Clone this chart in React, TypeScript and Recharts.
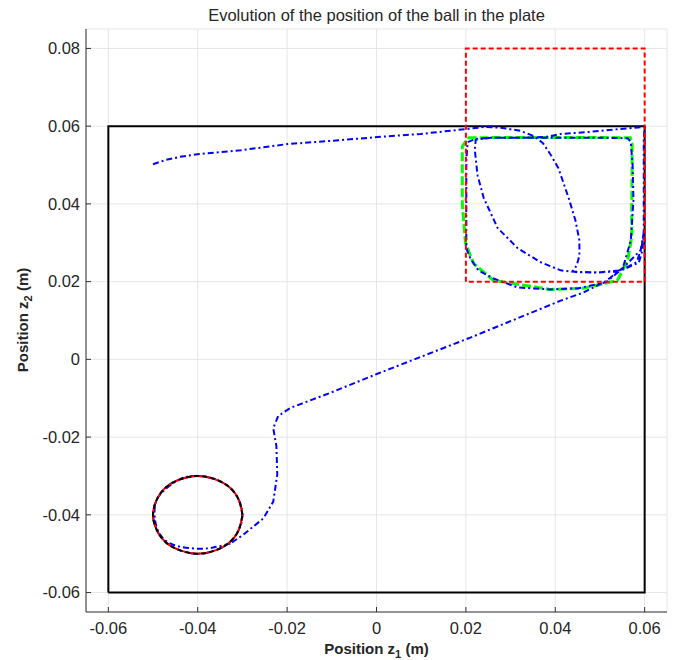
import { ScatterChart, Scatter, XAxis, YAxis, CartesianGrid } from 'recharts'

// axis ticks
const xTicks = [-0.06, -0.04, -0.02, 0, 0.02, 0.04, 0.06]
const yTicks = [-0.06, -0.04, -0.02, 0, 0.02, 0.04, 0.06, 0.08]

// plate boundary and target window
const plate = [[-0.06, -0.06], [-0.06, 0.06], [0.06, 0.06], [0.06, -0.06], [-0.06, -0.06]]
const targetBox = [[0.02, 0.02], [0.02, 0.08], [0.06, 0.08], [0.06, 0.02], [0.02, 0.02]]

// green square reference
const squareRef = [
  [0.0204, 0.057], [0.03, 0.0571], [0.04, 0.0571], [0.05, 0.0571], [0.0568, 0.0570], [0.0572, 0.0555],
  [0.0572, 0.05], [0.0571, 0.04], [0.0571, 0.0314], [0.0562, 0.0255], [0.0539, 0.0203], [0.0463, 0.0183],
  [0.0389, 0.018], [0.0262, 0.0203], [0.0217, 0.0247], [0.0199, 0.0299], [0.0192, 0.04], [0.0192, 0.0469],
  [0.0192, 0.0547], [0.0204, 0.057]
]

// circle reference
const circleRef = [
  [-0.03, -0.04], [-0.0308, -0.0362], [-0.0329, -0.0329], [-0.0362, -0.0308], [-0.04, -0.03],
  [-0.0438, -0.0308], [-0.0471, -0.0329], [-0.0492, -0.0362], [-0.05, -0.04], [-0.0492, -0.0438],
  [-0.0471, -0.0471], [-0.0438, -0.0492], [-0.04, -0.05], [-0.0362, -0.0492], [-0.0329, -0.0471],
  [-0.0308, -0.0438], [-0.03, -0.04]
]

// ball trajectory, piece by piece
const approach = [
  [-0.05, 0.0502], [-0.0472, 0.0513], [-0.044, 0.0521], [-0.0401, 0.0528], [-0.0304, 0.0538],
  [-0.0199, 0.0554], [-0.0103, 0.0562], [0.0002, 0.0572], [0.0099, 0.058], [0.0204, 0.0593], [0.0242, 0.0598]
]
const leafRight = [
  [0.0278, 0.0596], [0.0322, 0.0588], [0.0351, 0.0575], [0.0372, 0.0557], [0.039, 0.0526], [0.0407, 0.0492],
  [0.043, 0.0415], [0.0445, 0.0358], [0.0454, 0.0306], [0.0454, 0.0267], [0.0448, 0.0242], [0.0439, 0.0226]
]
const rightEdge = [
  [0.0486, 0.0223], [0.0535, 0.0226], [0.0562, 0.0236], [0.0587, 0.0249], [0.0595, 0.028],
  [0.0598, 0.0332], [0.0598, 0.0461], [0.0598, 0.0565], [0.06, 0.0598]
]
const topReturn = [
  [0.0546, 0.0593], [0.0475, 0.0585], [0.0412, 0.058], [0.0378, 0.0572], [0.0322, 0.057],
  [0.0255, 0.057], [0.0222, 0.0567]
]
const squareLap = [
  [0.0204, 0.0559], [0.0201, 0.0513], [0.0201, 0.041], [0.0201, 0.0286], [0.021, 0.026], [0.0228, 0.0229],
  [0.0262, 0.0208], [0.0316, 0.0185], [0.0389, 0.018], [0.0452, 0.0183], [0.0513, 0.0198], [0.0551, 0.0234],
  [0.0569, 0.0306], [0.0575, 0.041], [0.0573, 0.05], [0.0569, 0.0559], [0.0562, 0.0569], [0.0501, 0.057],
  [0.0412, 0.057], [0.0322, 0.057], [0.0255, 0.057], [0.0222, 0.0565]
]
const leafLeft = [
  [0.022, 0.0539], [0.0226, 0.0474], [0.024, 0.0415], [0.0271, 0.0338], [0.0316, 0.0286], [0.0367, 0.025],
  [0.0412, 0.0229], [0.0452, 0.0224], [0.0501, 0.0224], [0.0546, 0.0229], [0.0582, 0.025], [0.0593, 0.0286],
  [0.0598, 0.0327]
]
const exitPath = [
  [0.0591, 0.0281], [0.0553, 0.0237], [0.0513, 0.0201], [0.0463, 0.0172], [0.0412, 0.0151], [0.021, 0.0056],
  [0.0002, -0.0037], [-0.0103, -0.0086], [-0.0193, -0.0125], [-0.022, -0.0146], [-0.0231, -0.0177],
  [-0.0224, -0.0223], [-0.0222, -0.0296], [-0.0231, -0.0366], [-0.0253, -0.0409], [-0.0298, -0.0451],
  [-0.0327, -0.0474]
]
const circleInner = [
  [-0.0365, -0.0484], [-0.0401, -0.0487], [-0.0455, -0.0477], [-0.0484, -0.0451], [-0.0495, -0.0417],
  [-0.0495, -0.0373], [-0.0477, -0.0339], [-0.0439, -0.0308], [-0.0401, -0.03]
]
const circleLap = [
  [-0.0362, -0.0308], [-0.0329, -0.0329], [-0.0308, -0.0362], [-0.03, -0.04], [-0.0308, -0.0438],
  [-0.0329, -0.0471], [-0.0362, -0.0492], [-0.04, -0.05], [-0.0438, -0.0492], [-0.0471, -0.0471],
  [-0.0492, -0.0438], [-0.05, -0.04], [-0.0492, -0.0362], [-0.0471, -0.0329], [-0.0438, -0.0308],
  [-0.04, -0.03], [-0.0362, -0.0308]
]

const pts = (arr: number[][]) => arr.map(([x, y]) => ({ x, y }))
const trajectory = pts([
  ...approach, ...leafRight, ...rightEdge, ...topReturn, ...squareLap, ...leafLeft, ...exitPath
])
const circleTraj = pts([...exitPath.slice(-1), ...circleInner, ...circleLap])

const font = '"Liberation Sans", Arial, sans-serif'
const textColor = '#262626'
const axisColor = '#333333'
const noDot = () => <g />

export default function App() {
  const tickStyle = { fontSize: 16.5, fill: textColor, fontFamily: font }
  return (
    <div style={{ position: 'relative', width: 668, height: 652, fontFamily: font, color: textColor }}>
      <ScatterChart width={668} height={652} margin={{ top: 21, right: 9, left: 0, bottom: 0 }}>
        <CartesianGrid stroke="#e6e6e6" strokeWidth={1} />
        <XAxis
          type="number"
          dataKey="x"
          domain={[-0.065, 0.065]}
          allowDataOverflow
          ticks={xTicks}
          height={48}
          tickSize={-5}
          tickMargin={15}
          tick={tickStyle}
          stroke={axisColor}
        />
        <XAxis
          xAxisId="top"
          orientation="top"
          type="number"
          dataKey="x"
          domain={[-0.065, 0.065]}
          allowDataOverflow
          ticks={xTicks}
          height={0}
          tickSize={-5}
          tick={false}
          stroke={axisColor}
        />
        <YAxis
          type="number"
          dataKey="y"
          domain={[-0.065, 0.085]}
          allowDataOverflow
          ticks={yTicks}
          width={78}
          tickSize={-5}
          tickMargin={11}
          tick={tickStyle}
          stroke={axisColor}
        />
        <YAxis
          yAxisId="right"
          orientation="right"
          type="number"
          dataKey="y"
          domain={[-0.065, 0.085]}
          allowDataOverflow
          ticks={yTicks}
          width={0}
          tickSize={-5}
          tick={false}
          stroke={axisColor}
        />
        <Scatter
          data={pts(plate)}
          xAxisId="top"
          yAxisId="right"
          line={{ stroke: '#000000', strokeWidth: 2 }}
          shape={noDot}
          isAnimationActive={false}
        />
        <Scatter
          data={pts(squareRef)}
          line={{ stroke: '#00ff00', strokeWidth: 3, strokeDasharray: '9 3' }}
          shape={noDot}
          isAnimationActive={false}
        />
        <Scatter
          data={trajectory}
          line={{ stroke: '#0000ff', strokeWidth: 2, strokeDasharray: '6 3 2 3' }}
          shape={noDot}
          isAnimationActive={false}
        />
        <Scatter
          data={circleTraj}
          line={{ stroke: '#0000ff', strokeWidth: 2, strokeDasharray: '6 3 2 3' }}
          lineJointType="natural"
          shape={noDot}
          isAnimationActive={false}
        />
        <Scatter
          data={pts(circleRef)}
          line={{ stroke: '#ff0000', strokeWidth: 2 }}
          lineJointType="natural"
          shape={noDot}
          isAnimationActive={false}
        />
        <Scatter
          data={pts(circleRef)}
          line={{ stroke: '#000000', strokeWidth: 2, strokeDasharray: '5 3' }}
          lineJointType="natural"
          shape={noDot}
          isAnimationActive={false}
        />
        <Scatter
          data={pts(targetBox)}
          line={{ stroke: '#ff0000', strokeWidth: 2, strokeDasharray: '5 3' }}
          shape={noDot}
          isAnimationActive={false}
        />
      </ScatterChart>
      <div style={{ position: 'absolute', left: 78, width: 581, top: -2, textAlign: 'center', fontSize: 16.5, lineHeight: '18px' }}>
        Evolution of the position of the ball in the plate
      </div>
      <div style={{ position: 'absolute', left: 78, width: 581, top: 632, textAlign: 'center', fontSize: 15, lineHeight: '18px', fontWeight: 'bold' }}>
        Position z<sub style={{ fontSize: 11 }}>1</sub> (m)
      </div>
      <div
        style={{
          position: 'absolute',
          left: 17,
          top: 312,
          transform: 'translate(-50%, -50%) rotate(-90deg)',
          whiteSpace: 'nowrap',
          fontSize: 15,
          lineHeight: '18px',
          fontWeight: 'bold'
        }}
      >
        Position z<sub style={{ fontSize: 11 }}>2</sub> (m)
      </div>
    </div>
  )
}
